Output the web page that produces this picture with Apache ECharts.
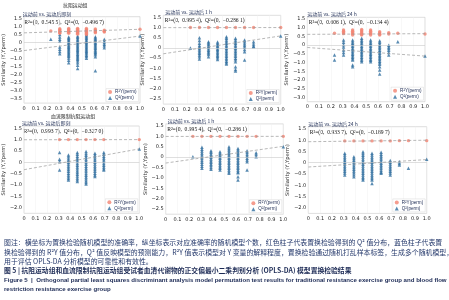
<!DOCTYPE html>
<html>
<head>
<meta charset="utf-8">
<script src="https://cdn.jsdelivr.net/npm/echarts@6/dist/echarts.min.js"></script>
<style>
html, body { margin: 0; padding: 0; background: #fff; }
#chart { width: 449px; height: 300px; }
</style>
</head>
<body>
<div id="chart"></div>
<script>
// permutation correlation positions (x)
const xPerm = [0.231, 0.308, 0.385, 0.462, 0.538, 0.615, 0.692, 0.769, 0.846, 1.0];

// panel 1: 抗阻运动组, 运动前 vs. 运动后即刻
const p1R2 = [[0.72], [0.86, 0.8, 0.74, 0.68, 0.62, 0.57], [0.87, 0.81, 0.75, 0.69, 0.63, 0.57], [0.88, 0.82, 0.76, 0.7, 0.64, 0.58, 0.52], [0.87, 0.81, 0.75, 0.69, 0.62, 0.56, 0.5], [0.84, 0.78, 0.72, 0.66, 0.6], [0.76, 0.7, 0.65], [], [], [0.82]];
const p1Q2 = [[0.2], [0.5, 0.35, 0.2, 0.08, -0.28, -0.42, -0.56, -0.7], [0.35, 0.27, 0.19, 0.11, 0.03, -0.05, -0.13, -0.21, -0.29, -0.37, -0.45, -0.53, -0.61, -0.69, -0.77, -0.85, -0.95, -1.1, -1.25], [0.4, 0.32, 0.24, 0.16, 0.08, 0, -0.08, -0.16, -0.24, -0.32, -0.4, -0.48, -0.56, -0.64, -0.72, -0.8, -0.88, -0.96, -1.04, -1.12, -1.25, -1.4, -1.6], [0.5, 0.42, 0.34, 0.26, 0.18, 0.1, 0.02, -0.06, -0.14, -0.22, -0.3, -0.38, -0.46, -0.54, -0.62, -0.7, -0.78, -0.86, -0.97], [0.36, 0.28, 0.2, 0.12, 0.04, -0.04, -0.12, -0.2, -0.28, -0.36, -0.44, -0.52, -0.6, -0.68, -0.76, -0.88, -1.74], [0.2, 0.1, 0, -0.1, -0.2, -0.32], [], [], [0.4]];
const p1Fit = { r2: [0.6, 0.82], q2: [-0.4967, 0.4] };

// panel 2: 抗阻运动组, 运动前 vs. 运动后 1 h
const p2R2 = [[1.0], [1.0], [1.0], [1.0], [1.0], [1.0], [1.0], [1.0], [], [1.0]];
const p2Q2 = [[0.0], [0.5, 0.36, 0.23, 0.12, 0.05, -0.03, -0.1, -0.18, -0.26, -0.34, -0.43, -0.54], [0.31, 0.24, 0.17, 0.1, 0.03, -0.04, -0.11, -0.18, -0.25, -0.32, -0.43], [0.29, 0.22, 0.15, 0.08, 0.01, -0.06, -0.13, -0.2, -0.27, -0.34, -0.41, -0.48, -0.56], [0.55, 0.47, 0.39, 0.31, 0.23, 0.15, 0.07, -0.01, -0.09, -0.17, -0.25, -0.33, -0.41, -0.49, -0.57, -0.65, -0.72, -0.79], [0.47, 0.39, 0.31, 0.23, 0.15, 0.07, -0.01, -0.09, -0.17, -0.25, -0.33, -0.41, -0.5, -0.58, -0.67, -0.92, -1.05, -1.13], [0.39, 0.3, 0.21, 0.12, 0.03, -0.07, -0.18, -0.59], [0.31, 0.2, 0.1, 0.06], [], [0.59]];
const p2Fit = { r2: [0.9954, 1.0], q2: [-0.2861, 0.59] };

// panel 3: 抗阻运动组, 运动前 vs. 运动后 24 h
const p3R2 = [[0.68], [0.87, 0.8, 0.73, 0.66], [0.87, 0.8, 0.73, 0.66, 0.58], [0.9, 0.83, 0.76, 0.69, 0.62, 0.58], [0.87, 0.8, 0.73, 0.66, 0.58], [0.77, 0.7, 0.63, 0.58], [0.71, 0.64], [0.68], [], [0.64]];
const p3Q2 = [[-0.57, -0.86], [0.3, 0.16, 0.02, -0.1, -0.28, -0.42, -0.57], [0.29, 0.2, 0.11, 0.02, -0.07, -0.16, -0.25, -0.34, -0.43, -0.52, -0.61, -0.7, -0.78, -0.86, -1.14, -1.24], [0.39, 0.3, 0.21, 0.12, 0.03, -0.06, -0.15, -0.24, -0.33, -0.42, -0.51, -0.6, -0.69, -0.78, -0.87, -0.95], [0.29, 0.2, 0.11, 0.02, -0.07, -0.16, -0.25, -0.34, -0.43, -0.52, -0.61, -0.7, -0.79, -0.87, -0.95], [0.25, 0.16, 0.07, -0.02, -0.11, -0.2, -0.29, -0.38, -0.47, -0.56, -0.65, -0.74, -0.83, -0.92, -1.01, -1.1, -1.24, -1.43, -1.66], [0.0, -0.1, -0.2, -0.3, -0.42, -0.57], [0.2], [], [-0.63]];
const p3Fit = { r2: [0.62, 0.66], q2: [-0.1344, -0.63] };

// panel 4: 血流限制抗阻运动组, 运动前 vs. 运动后即刻
const p4R2 = [[], [1.0], [1.0], [1.0], [1.0], [1.0], [1.0], [], [], [1.0]];
const p4Q2 = [[], [0.43, 0.13, 0.03, -0.34], [0.32, 0.24, 0.16, 0.08, 0.0, -0.08, -0.16, -0.24, -0.32, -0.4, -0.48, -0.56, -0.64, -0.71, -0.78], [0.43, 0.35, 0.27, 0.19, 0.11, 0.03, -0.05, -0.13, -0.21, -0.29, -0.37, -0.45, -0.53, -0.61, -0.69, -0.77, -0.85], [0.47, 0.39, 0.31, 0.23, 0.15, 0.07, -0.01, -0.09, -0.17, -0.25, -0.33, -0.41, -0.49, -0.57, -0.65, -0.73, -0.81, -0.89, -0.96], [0.4, 0.32, 0.24, 0.16, 0.08, 0.0, -0.08, -0.16, -0.24, -0.32, -0.4, -0.48, -0.56, -0.63], [0.43, 0.35, 0.27, 0.19, 0.11, 0.03, -0.05, -0.13, -0.21, -0.29, -0.34], [], [], [0.59]];
const p4Fit = { r2: [0.9937, 1.0], q2: [-0.327, 0.59] };

// panel 5: 血流限制抗阻运动组, 运动前 vs. 运动后 1 h
const p5R2 = [[1.0], [1.0], [1.0], [1.0], [1.0], [1.0], [1.0], [1.0], [], [1.0]];
const p5Q2 = [[0.02], [0.47, 0.38, 0.29, 0.2, 0.11, 0.02, -0.07, -0.16, -0.25, -0.34, -0.44, -0.54], [0.31, 0.23, 0.15, 0.07, -0.01, -0.09, -0.17, -0.25, -0.33, -0.41, -0.5, -0.59], [0.26, 0.18, 0.1, 0.02, -0.06, -0.14, -0.22, -0.3, -0.38, -0.46, -0.54, -0.62], [0.5, 0.42, 0.34, 0.26, 0.18, 0.1, 0.02, -0.06, -0.14, -0.22, -0.3, -0.38, -0.46, -0.54, -0.62, -0.7, -0.78], [0.42, 0.34, 0.26, 0.18, 0.1, 0.02, -0.06, -0.14, -0.22, -0.3, -0.38, -0.46, -0.54, -0.62, -0.7, -0.75, -0.94, -1.1], [0.31, 0.22, 0.13, 0.04, -0.05, -0.14, -0.22, -0.62], [0.21, 0.12, 0.02], [], [0.5]];
const p5Fit = { r2: [0.9954, 1.0], q2: [-0.2861, 0.52] };

// panel 6: 血流限制抗阻运动组, 运动前 vs. 运动后 24 h
const p6R2 = [[], [0.97], [0.97], [0.97], [0.97], [0.97], [0.97], [0.98], [0.98], [0.98]];
const p6Q2 = [[], [0.42, 0.34, 0.26, 0.18, 0.1, 0.02, -0.06, -0.14, -0.22, -0.3, -0.38, -0.46, -0.55], [0.27, 0.19, 0.11, 0.03, -0.05, -0.13, -0.21, -0.29, -0.37, -0.45, -0.53, -0.62], [0.49, 0.41, 0.33, 0.25, 0.17, 0.09, 0.01, -0.07, -0.15, -0.23, -0.31, -0.39, -0.47, -0.55, -0.63, -0.7, -0.77], [0.42, 0.34, 0.26, 0.18, 0.1, 0.02, -0.06, -0.14, -0.22, -0.3, -0.38, -0.46, -0.54, -0.62, -0.7, -0.77, -0.92], [0.46, 0.38, 0.3, 0.22, 0.14, 0.06, -0.02, -0.1, -0.18, -0.26, -0.34, -0.42, -0.47], [0.1, 0.02, -0.06, -0.14, -0.22, -0.3, -0.38, -0.46, -0.55], [0.04, -0.03, -0.1], [-0.25], [0.16]];
const p6Fit = { r2: [0.9337, 1.0], q2: [-0.1897, 0.14] };

const subTitles = ['运动前 vs. 运动后即刻', '运动前 vs. 运动后 1 h', '运动前 vs. 运动后 24 h', '运动前 vs. 运动后即刻', '运动前 vs. 运动后 1 h', '运动前 vs. 运动后 24 h'];
const statTexts = ['R²=(0,  0.545 5),  Q²=(0,  −0.496 7)', 'R²=(0,  0.995 4),  Q²=(0,  −0.286 1)', 'R²=(0,  0.606 1),  Q²=(0,  −0.134 4)', 'R²=(0,  0.993 7),  Q²=(0,  −0.327 0)', 'R²=(0,  0.995 4),  Q²=(0,  −0.286 1)', 'R²=(0,  0.933 7),  Q²=(0,  −0.189 7)'];
const yMins = [-3.75, -2.75, -3.25, -2.25, -2.75, -2.25];
const yMax = 1.6;

const panels = [
  { r2: p1R2, q2: p1Q2, fit: p1Fit },
  { r2: p2R2, q2: p2Q2, fit: p2Fit },
  { r2: p3R2, q2: p3Q2, fit: p3Fit },
  { r2: p4R2, q2: p4Q2, fit: p4Fit },
  { r2: p5R2, q2: p5Q2, fit: p5Fit },
  { r2: p6R2, q2: p6Q2, fit: p6Fit }
];

// grid boxes (px)
const boxes = [
  { left: 22.7, top: 16.7, width: 117.3, height: 86.4 },
  { left: 163.3, top: 15.3, width: 117.4, height: 88.8 },
  { left: 307.3, top: 17.3, width: 117.7, height: 84.4 },
  { left: 22, top: 126, width: 117.3, height: 87.3 },
  { left: 165.7, top: 123.9, width: 117.6, height: 90.3 },
  { left: 308.3, top: 126.7, width: 118.4, height: 86.7 }
];

const RED = '#f28372';
const BLUE = '#2f6e9f';
const TXT = '#1f2d55';

function flat(cols) {
  const out = [];
  cols.forEach((vals, k) => vals.forEach(v => out.push([xPerm[k], v])));
  return out;
}

const grid = [], xAxis = [], yAxis = [], series = [], legend = [], graphic = [];

boxes.forEach((b, i) => {
  grid.push({ left: b.left, top: b.top, width: b.width, height: b.height, show: true, borderColor: '#c8c8c8', borderWidth: 0.6, backgroundColor: '#fff' });
  xAxis.push({
    gridIndex: i, type: 'value', min: 0, max: 1, interval: 0.1,
    axisLine: { show: false }, axisTick: { show: false },
    axisLabel: { fontSize: 5, color: '#222', margin: 3, fontFamily: 'DejaVu Sans', formatter: v => v === 0 ? '0' : v.toFixed(1) },
    splitLine: { show: true, lineStyle: { color: '#f1f1f1', width: 0.5 } }
  });
  yAxis.push({
    gridIndex: i, type: 'value', min: yMins[i], max: yMax, interval: 0.25,
    axisLine: { show: false }, axisTick: { show: false },
    axisLabel: {
      fontSize: 5, color: '#222', margin: 2, fontFamily: 'DejaVu Sans', showMaxLabel: false,
      formatter: v => {
        if (Math.abs(v * 2 - Math.round(v * 2)) > 1e-6) return '';
        if (Math.abs(v) < 1e-9) return '0';
        return (v < 0 ? '−' : '') + Math.abs(v).toFixed(1);
      }
    },
    splitLine: { show: false },
    name: 'Similarity (Y,Yperm)', nameLocation: 'middle', nameGap: 12,
    nameTextStyle: { fontSize: 5.2, color: '#333', fontFamily: 'DejaVu Sans' }
  });
  const p = panels[i];
  series.push({
    name: 'Q²(perm)', type: 'scatter', xAxisIndex: i, yAxisIndex: i,
    symbol: 'triangle', symbolSize: 3.5, itemStyle: { color: BLUE },
    data: flat(p.q2), z: 3,
    markLine: { silent: true, symbol: 'none', label: { show: false }, lineStyle: { color: '#c9c9c9', type: 'solid', width: 0.6 }, data: [{ yAxis: 0 }] }
  });
  series.push({
    name: 'R²Y(perm)', type: 'scatter', xAxisIndex: i, yAxisIndex: i,
    symbol: 'circle', symbolSize: 3.4, itemStyle: { color: RED },
    data: flat(p.r2), z: 4
  });
  series.push({
    type: 'line', xAxisIndex: i, yAxisIndex: i, symbol: 'none', silent: true,
    lineStyle: { color: '#9a9a9a', width: 0.7, type: [3, 2] },
    data: [[0, p.fit.r2[0]], [1, p.fit.r2[1]]], z: 5
  });
  series.push({
    type: 'line', xAxisIndex: i, yAxisIndex: i, symbol: 'none', silent: true,
    lineStyle: { color: '#9a9a9a', width: 0.7, type: [3, 2] },
    data: [[0, p.fit.q2[0]], [1, p.fit.q2[1]]], z: 5
  });
  legend.push({
    orient: 'vertical', right: 449 - (b.left + b.width) + 1.5, bottom: 300 - (b.top + b.height) + 1.5,
    itemWidth: 4, itemHeight: 4, itemGap: 1, padding: [1, 2],
    borderColor: '#d8d8d8', borderWidth: 0.5, backgroundColor: '#fff',
    textStyle: { fontSize: 4.6, color: TXT, padding: [0, 0, 0, -2] },
    data: [{ name: 'R²Y(perm)', icon: 'circle' }, { name: 'Q²(perm)', icon: 'triangle' }]
  });
  graphic.push({
    type: 'text', left: b.left + (i % 3 === 1 ? 2 : 0), top: b.top - 5.5,
    style: { text: subTitles[i], fontSize: 5, fill: TXT, fontFamily: 'Noto Sans CJK SC' }
  });
  graphic.push({
    type: 'text', left: b.left + 1.5, top: b.top + 2.6,
    style: { text: statTexts[i], fontSize: 5.6, fill: '#111', fontFamily: 'Liberation Serif' }
  });
});

graphic.push({ type: 'text', left: 63, top: 3, style: { text: '抗阻运动组', fontSize: 4.9, fill: '#222', fontFamily: 'Noto Sans CJK SC' } });
graphic.push({ type: 'text', left: 51, top: 114, style: { text: '血流限制抗阻运动组', fontSize: 4.9, fill: '#222', fontFamily: 'Noto Sans CJK SC' } });

const captionLines = [
  '图注：横坐标为置换检验随机模型的准确率，纵坐标表示对应准确率的随机模型个数，红色柱子代表置换检验得到的 Q² 值分布，蓝色柱子代表置',
  '换检验得到的 R²Y 值分布，Q² 值反映模型的预测能力，R²Y 值表示模型对 Y 变量的解释程度，置换检验通过随机打乱样本标签，生成多个随机模型，',
  '用于评估 OPLS-DA 分析模型的可靠性和有效性。'
];
captionLines.forEach((t, k) => {
  graphic.push({ type: 'text', left: 4, top: 239 + k * 9.6, style: { text: t, fontSize: 6.9, fill: '#24386b', fontFamily: 'Noto Sans CJK SC' } });
});
graphic.push({ type: 'text', left: 4, top: 267.5, style: { text: '图 5 | 抗阻运动组和血流限制抗阻运动组受试者血清代谢物的正交偏最小二乘判别分析 (OPLS-DA) 模型置换检验结果', fontSize: 6.8, fontWeight: 'bold', fill: '#1c2a55', fontFamily: 'Noto Sans CJK SC' } });
graphic.push({ type: 'text', left: 4, top: 277, style: { text: 'Figure 5  |  Orthogonal partial least squares discriminant analysis model permutation test results for traditional resistance exercise group and blood flow', fontSize: 6.1, fontWeight: 'bold', fill: '#1c2a55', fontFamily: 'Liberation Sans' } });
graphic.push({ type: 'text', left: 4, top: 286, style: { text: 'restriction resistance exercise group', fontSize: 6.1, fontWeight: 'bold', fill: '#1c2a55', fontFamily: 'Liberation Sans' } });

const chart = echarts.init(document.getElementById('chart'), null, { renderer: 'canvas' });
chart.setOption({
  animation: false,
  backgroundColor: '#fff',
  grid, xAxis, yAxis, series, legend, graphic
});
</script>
</body>
</html>
